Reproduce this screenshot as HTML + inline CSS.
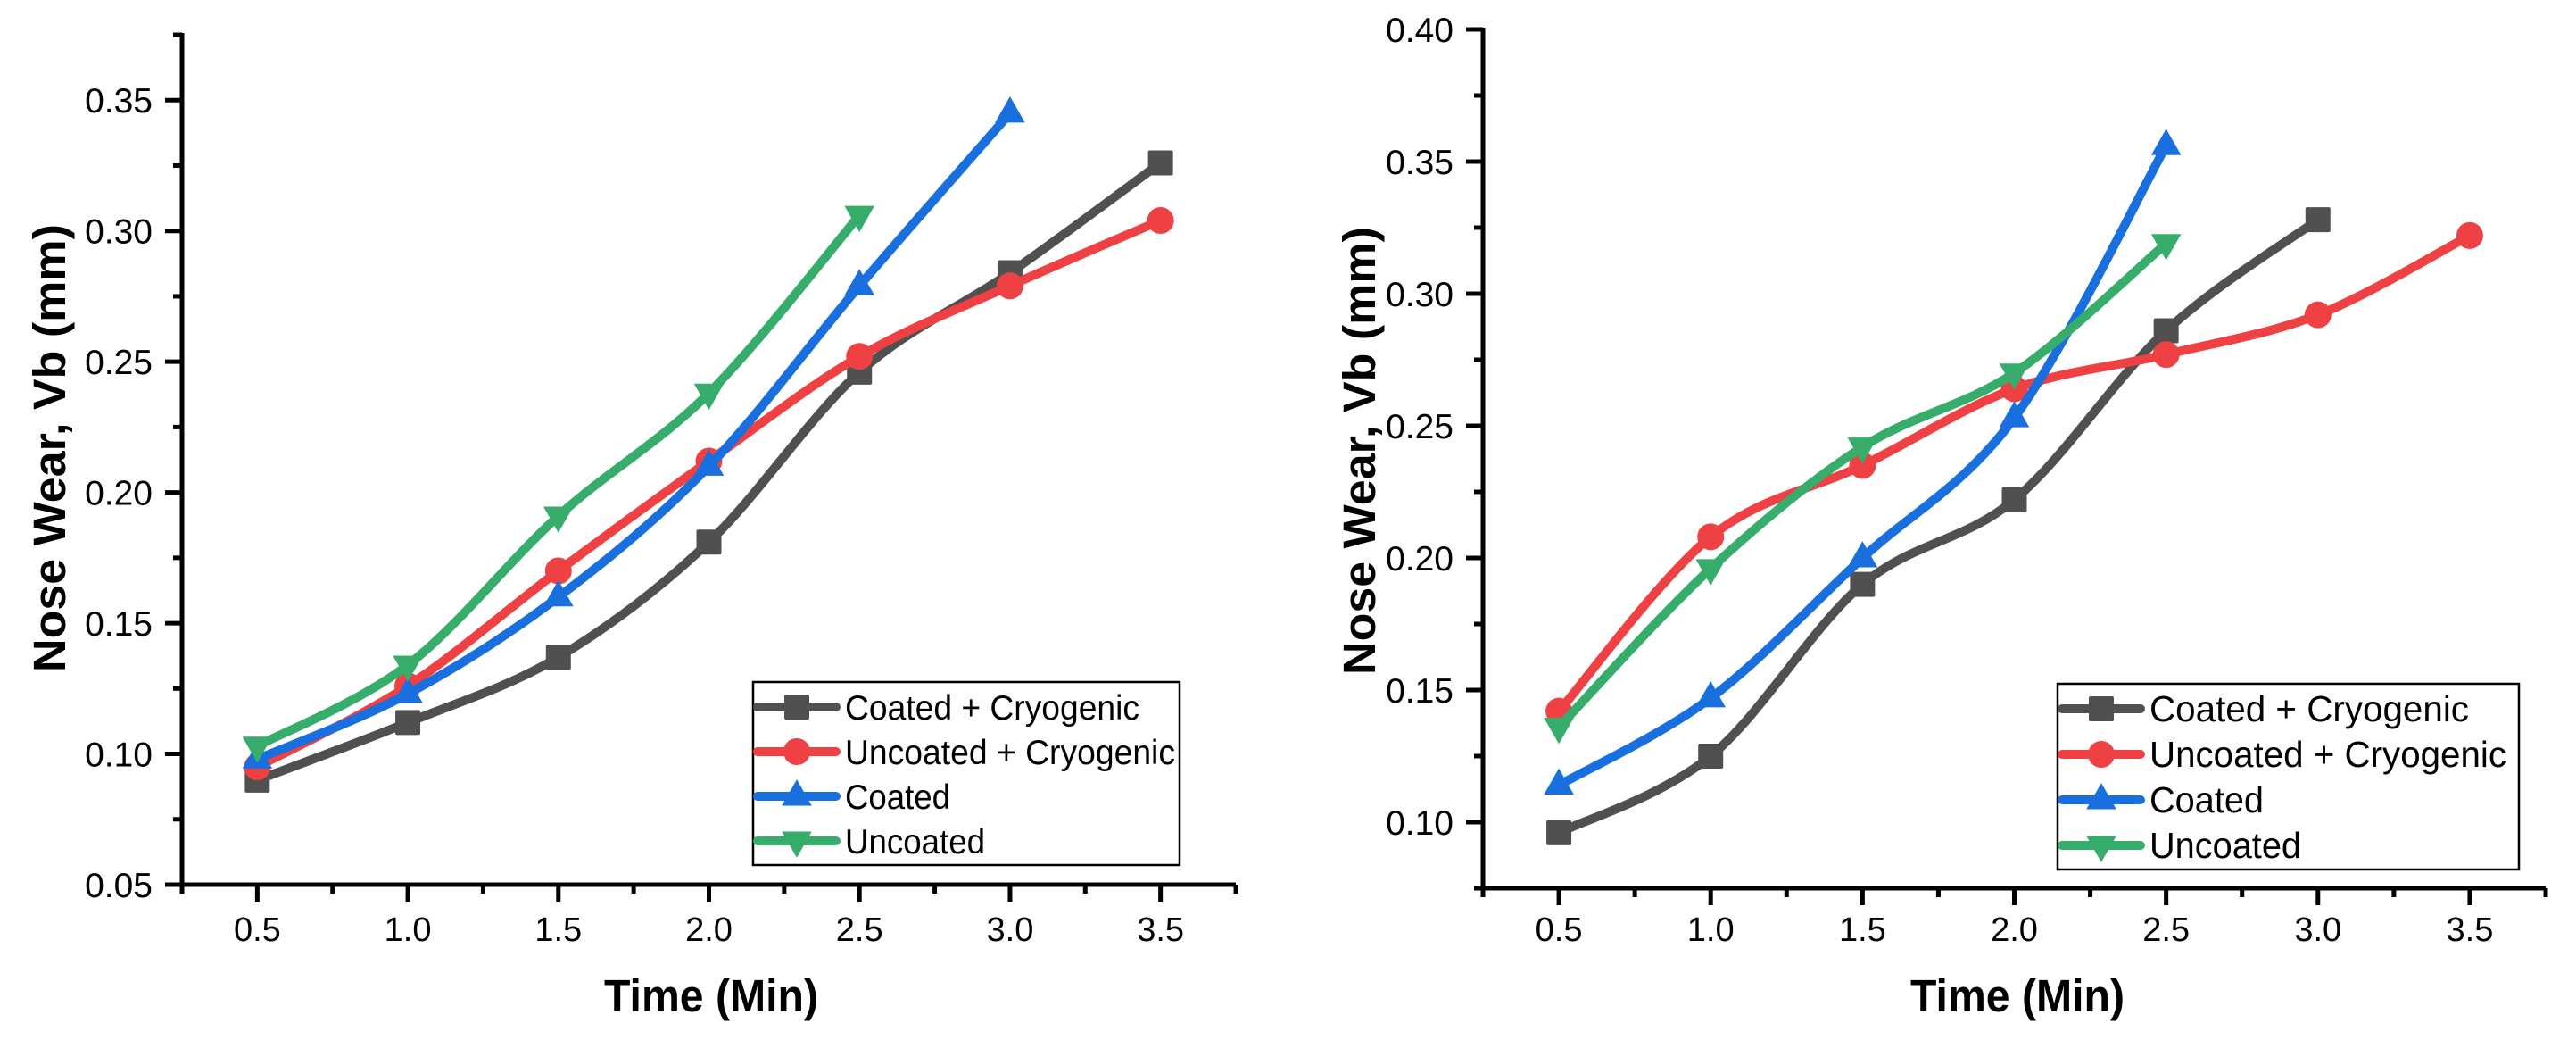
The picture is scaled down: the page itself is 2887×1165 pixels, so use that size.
<!DOCTYPE html>
<html><head><meta charset="utf-8"><style>
html,body{margin:0;padding:0;background:#fff;}
svg{display:block;font-family:"Liberation Sans",Arial,sans-serif;}
</style></head><body>
<svg id="chart" width="2887" height="1165" viewBox="0 0 2887 1165" xmlns="http://www.w3.org/2000/svg"></svg>
<script>
// ---- data ----
const seriesNames = ["Coated + Cryogenic", "Uncoated + Cryogenic", "Coated", "Uncoated"];
const xTickLabels = ["0.5", "1.0", "1.5", "2.0", "2.5", "3.0", "3.5"];
const leftYTickLabels = ["0.05", "0.10", "0.15", "0.20", "0.25", "0.30", "0.35"];
const rightYTickLabels = ["0.10", "0.15", "0.20", "0.25", "0.30", "0.35", "0.40"];

const leftTimes = [0.5, 1.0, 1.5, 2.0, 2.5, 3.0, 3.5];
const leftCoatedCryo = [0.090, 0.112, 0.137, 0.181, 0.246, 0.284, 0.326];
const leftUncoatedCryo = [0.095, 0.126, 0.170, 0.212, 0.252, 0.279, 0.304];
const leftCoated = [0.098, 0.123, 0.160, 0.210, 0.279, 0.345];
const leftUncoated = [0.103, 0.134, 0.191, 0.238, 0.306];

const rightTimes = [0.5, 1.0, 1.5, 2.0, 2.5, 3.0, 3.5];
const rightCoatedCryo = [0.096, 0.125, 0.190, 0.222, 0.286, 0.328];
const rightUncoatedCryo = [0.142, 0.208, 0.235, 0.264, 0.277, 0.292, 0.322];
const rightCoated = [0.114, 0.147, 0.200, 0.253, 0.356];
const rightUncoated = [0.136, 0.196, 0.242, 0.270, 0.319];

const colors = ["#505050", "#ef4143", "#1a6fdf", "#37ad6b"];
const markers = ["square", "circle", "up", "down"];

const svg = document.getElementById('chart');
const NS = "http://www.w3.org/2000/svg";
function mk(tag, attrs, parent) {
  const e = document.createElementNS(NS, tag);
  for (const k in attrs) e.setAttribute(k, attrs[k]);
  (parent || svg).appendChild(e);
  return e;
}

function catmull(pts) {
  if (pts.length < 2) return "";
  let d = "M" + pts[0][0] + "," + pts[0][1];
  for (let i = 0; i < pts.length - 1; i++) {
    const p0 = pts[i - 1] || pts[i], p1 = pts[i], p2 = pts[i + 1], p3 = pts[i + 2] || p2;
    const t = 6;
    const c1 = [p1[0] + (p2[0] - p0[0]) / t, p1[1] + (p2[1] - p0[1]) / t];
    const c2 = [p2[0] - (p3[0] - p1[0]) / t, p2[1] - (p3[1] - p1[1]) / t];
    d += " C" + c1[0] + "," + c1[1] + " " + c2[0] + "," + c2[1] + " " + p2[0] + "," + p2[1];
  }
  return d;
}

function drawMarker(g, type, x, y, color, s) {
  let m;
  if (type === "square") m = mk('rect', {x: x - s, y: y - s, width: 2 * s, height: 2 * s, fill: color, rx: 2}, g);
  else if (type === "circle") m = mk('circle', {cx: x, cy: y, r: s + 1, fill: color}, g);
  else if (type === "up") m = mk('polygon', {points: `${x},${y - s * 1.35} ${x - s * 1.2},${y + s * 0.75} ${x + s * 1.2},${y + s * 0.75}`, fill: color}, g);
  else m = mk('polygon', {points: `${x},${y + s * 1.35} ${x - s * 1.2},${y - s * 0.75} ${x + s * 1.2},${y - s * 0.75}`, fill: color}, g);
  return m;
}

function drawChart(cfg) {
  const g = mk('g', {});
  
  
  const X = v => cfg.x0 + (v - cfg.xmin) / (cfg.xmax - cfg.xmin) * (cfg.x1 - cfg.x0);
  const Y = v => cfg.y0 - (v - cfg.ymin) / (cfg.ymax - cfg.ymin) * (cfg.y0 - cfg.y1);

  cfg.series.forEach((vals, si) => {
    const sg = mk('g', {}, g);
    
    
    const pts = vals.map((v, i) => [X(cfg.times[i]), Y(v)]);
    const p = mk('path', {d: catmull(pts), fill: 'none', stroke: colors[si], 'stroke-width': 10, 'stroke-linejoin': 'round', 'stroke-linecap': 'round'}, sg);
    
    
    pts.forEach(pt => {
      const m = drawMarker(sg, markers[si], pt[0], pt[1], colors[si], 14);
      
      
    });
  });

  const ax = mk('g', {stroke: '#000', 'stroke-width': 5, fill: 'none'}, g);
  
  
  mk('line', {x1: cfg.x0, y1: cfg.y1 - 2, x2: cfg.x0, y2: cfg.y0 + 2}, ax);
  mk('line', {x1: cfg.x0 - 2, y1: cfg.y0, x2: cfg.x1, y2: cfg.y0}, ax);
  for (let v = cfg.xmin; v <= cfg.xmax + 1e-9; v += 0.25) {
    const major = Math.abs((v * 2) - Math.round(v * 2)) < 1e-6;
    mk('line', {x1: X(v), y1: cfg.y0, x2: X(v), y2: cfg.y0 + (major ? 19 : 10)}, ax);
  }
  xTickLabels.forEach(lbl => {
    const t = mk('text', {x: X(parseFloat(lbl)), y: 1054, 'font-size': 38, 'text-anchor': 'middle', fill: '#000', stroke: 'none'}, g);
    t.textContent = lbl;
    
    
  });
  for (let v = cfg.ymin; v <= cfg.ymax + 1e-9; v += 0.025) {
    const major = Math.abs(v * 20 - Math.round(v * 20)) < 1e-6;
    mk('line', {x1: cfg.x0, y1: Y(v), x2: cfg.x0 - (major ? 19 : 10), y2: Y(v)}, ax);
  }
  cfg.yLabels.forEach(lbl => {
    const t = mk('text', {x: cfg.x0 - 33, y: Y(parseFloat(lbl)) + 14, 'font-size': 39, 'text-anchor': 'end', fill: '#000', stroke: 'none'}, g);
    t.textContent = lbl;
    
    
  });
  const xt = mk('text', {x: cfg.xTitleX, y: 1133, 'font-size': 51, 'font-weight': 'bold', 'text-anchor': 'middle', textLength: 240, lengthAdjust: 'spacingAndGlyphs'}, g);
  xt.textContent = 'Time (Min)';
  
  
  const yt = mk('text', {x: 0, y: 0, 'font-size': 51, 'font-weight': 'bold', 'text-anchor': 'middle', textLength: 502, lengthAdjust: 'spacingAndGlyphs', transform: `translate(${cfg.yTitleX},${cfg.yTitleY}) rotate(-90)`}, g);
  yt.textContent = 'Nose Wear, Vb (mm)';
  
  

  const lg = mk('g', {}, g);
  
  
  const L = cfg.legend;
  mk('rect', {x: L.x, y: L.y, width: L.w, height: L.h, fill: '#fff', stroke: '#000', 'stroke-width': 2.5}, lg);
  seriesNames.forEach((n, i) => {
    const ent = mk('g', {}, lg);
    
    
    const cy = L.y + 28 + i * L.row;
    mk('line', {x1: L.x + 5, y1: cy, x2: L.x + 93, y2: cy, stroke: colors[i], 'stroke-width': 10, 'stroke-linecap': 'round'}, ent);
    drawMarker(ent, markers[i], L.x + 49, cy, colors[i], 14);
    const t = mk('text', {x: L.x + 103, y: cy + 14, 'font-size': L.fs, fill: '#000', textLength: L.lens[i], lengthAdjust: 'spacingAndGlyphs'}, ent);
    t.textContent = n;
  });
}

drawChart({
  name: 'left-chart', x0: 204, x1: 1385, y0: 991, y1: 39,
  xmin: 0.25, xmax: 3.75, ymin: 0.05, ymax: 0.375,
  times: leftTimes,
  series: [leftCoatedCryo, leftUncoatedCryo, leftCoated, leftUncoated],
  yLabels: leftYTickLabels,
  xTitleX: 797, yTitleX: 73, yTitleY: 502,
  legend: {x: 844, y: 764, w: 478, h: 205, row: 50, fs: 39, lens: [330, 370, 118, 157]}
});
drawChart({
  name: 'right-chart', x0: 1662, x1: 2853, y0: 995, y1: 33,
  xmin: 0.25, xmax: 3.75, ymin: 0.075, ymax: 0.40,
  times: rightTimes,
  series: [rightCoatedCryo, rightUncoatedCryo, rightCoated, rightUncoated],
  yLabels: rightYTickLabels,
  xTitleX: 2261, yTitleX: 1541, yTitleY: 505,
  legend: {x: 2306, y: 766, w: 517, h: 208, row: 51, fs: 41, lens: [358, 400, 128, 170]}
});
</script>
</body></html>
